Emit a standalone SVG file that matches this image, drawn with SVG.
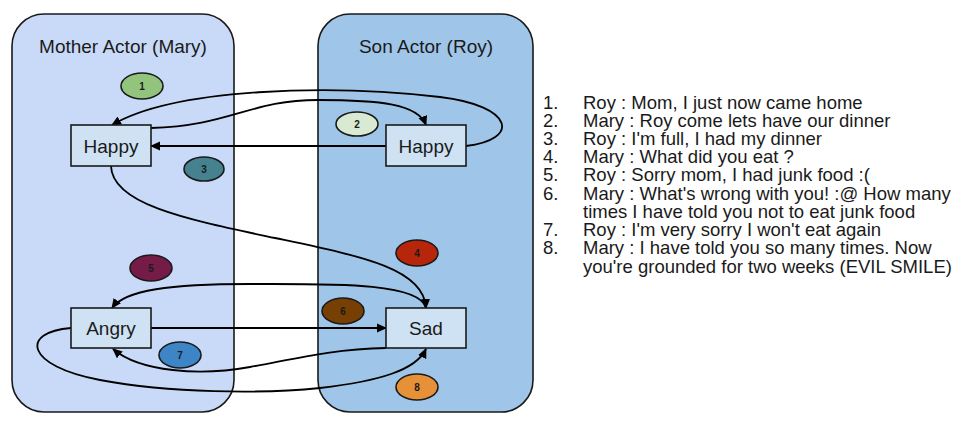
<svg xmlns="http://www.w3.org/2000/svg" width="960" height="440" viewBox="0 0 960 440">
<defs>
<marker id="arr" viewBox="0 0 10 10" refX="9" refY="5" markerWidth="10" markerHeight="10" markerUnits="userSpaceOnUse" orient="auto">
<path d="M0,0.5 L10,5 L0,9.5 z" fill="#000"/>
</marker>
<style>
.lane{stroke:#1a1a1a;stroke-width:1.6}
.title{font-family:"Liberation Sans",Arial,sans-serif;font-size:19px;fill:#1a1a1a;text-anchor:middle}
.box{fill:#cfe2f3;stroke:#1a1a1a;stroke-width:1.6}
.lbl{font-family:"Liberation Sans",Arial,sans-serif;font-size:19px;fill:#1a1a1a;text-anchor:middle}
.badge{stroke:#1a1a1a;stroke-width:1.6}
.num{font-family:"Liberation Sans",Arial,sans-serif;font-size:10px;font-weight:bold;fill:#1a1a1a;text-anchor:middle}
.edge{fill:none;stroke:#000;stroke-width:1.8}
.arr{marker-end:url(#arr)}
.list{font-family:"Liberation Sans",Arial,sans-serif;font-size:18.5px;fill:#1a1a1a}
</style>
</defs>
<rect width="960" height="440" fill="#fff"/>
<g id="mother-lane">
<rect class="lane" x="12" y="14" width="222" height="398" rx="32" fill="#c9daf8"/>
<text class="title" x="123" y="53">Mother Actor (Mary)</text>
</g>
<g id="son-lane">
<rect class="lane" x="318" y="14" width="215" height="398" rx="32" fill="#9fc5e8"/>
<text class="title" x="426" y="53">Son Actor (Roy)</text>
</g>
<g id="connectors">
<path class="edge arr" d="M466,146 C520,140 515,106 440,97 C330,84 175,88 112,125"/>
<path class="edge arr" d="M151,128 C230,126 250,100 318,100 C380,100 418,104 426,125"/>
<path class="edge arr" d="M386,146 L151,146"/>
<path class="edge arr" d="M111,166 C112,205 190,220 275,238 C360,256 424,268 426,308"/>
<path class="edge arr" d="M426,308 C420,282 330,284 250,284 C170,284 125,290 112,308"/>
<path class="edge arr" d="M151,328 L386,328"/>
<path class="edge arr" d="M386,348 C330,349 290,360 250,367 C200,376 140,372 113,349"/>
<path class="edge arr" d="M71,328 C20,332 25,366 100,380 C170,393 260,394 320,388 C380,381 416,370 426,349"/>
</g>
<g id="node-mother-happy">
<rect class="box" x="71" y="125" width="80" height="41"/>
<text class="lbl" x="111" y="152.5">Happy</text>
</g>
<g id="node-son-happy">
<rect class="box" x="386" y="125" width="80" height="41"/>
<text class="lbl" x="426" y="152.5">Happy</text>
</g>
<g id="node-angry">
<rect class="box" x="71" y="308" width="80" height="40"/>
<text class="lbl" x="111" y="335">Angry</text>
</g>
<g id="node-sad">
<rect class="box" x="386" y="308" width="80" height="40"/>
<text class="lbl" x="426" y="335">Sad</text>
</g>
<g id="badge-1"><ellipse class="badge" cx="142" cy="86" rx="21" ry="13" fill="#93c47d"/><text class="num" x="142" y="90">1</text></g>
<g id="badge-2"><ellipse class="badge" cx="357" cy="124" rx="21" ry="12" fill="#d9ead3"/><text class="num" x="357" y="128">2</text></g>
<g id="badge-3"><ellipse class="badge" cx="204" cy="169" rx="20" ry="12" fill="#45818e"/><text class="num" x="204" y="173">3</text></g>
<g id="badge-4"><ellipse class="badge" cx="417" cy="253" rx="21" ry="13" fill="#b7260b"/><text class="num" x="417" y="257">4</text></g>
<g id="badge-5"><ellipse class="badge" cx="151" cy="268" rx="21" ry="13" fill="#741b47"/><text class="num" x="151" y="272">5</text></g>
<g id="badge-6"><ellipse class="badge" cx="343" cy="311" rx="21" ry="13" fill="#783f04"/><text class="num" x="343" y="315">6</text></g>
<g id="badge-7"><ellipse class="badge" cx="180" cy="355" rx="21" ry="13" fill="#3d85c6"/><text class="num" x="180" y="359">7</text></g>
<g id="badge-8"><ellipse class="badge" cx="417" cy="387" rx="21" ry="13" fill="#e69138"/><text class="num" x="417" y="391">8</text></g>
<g id="legend" class="list">
<text x="543" y="108.5">1.</text><text x="583" y="108.5">Roy : Mom, I just now came home</text>
<text x="543" y="126.5">2.</text><text x="583" y="126.5">Mary : Roy come lets have our dinner</text>
<text x="543" y="144.5">3.</text><text x="583" y="144.5">Roy : I'm full, I had my dinner</text>
<text x="543" y="163">4.</text><text x="583" y="163">Mary : What did you eat ?</text>
<text x="543" y="181">5.</text><text x="583" y="181">Roy : Sorry mom, I had junk food :(</text>
<text x="543" y="199.5">6.</text><text x="583" y="199.5">Mary : What's wrong with you! :@ How many</text>
<text x="583" y="217.5">times I have told you not to eat junk food</text>
<text x="543" y="236">7.</text><text x="583" y="236">Roy : I'm very sorry I won't eat again</text>
<text x="543" y="254">8.</text><text x="583" y="254">Mary : I have told you so many times. Now</text>
<text x="583" y="272.5">you're grounded for two weeks (EVIL SMILE)</text>
</g>
</svg>
